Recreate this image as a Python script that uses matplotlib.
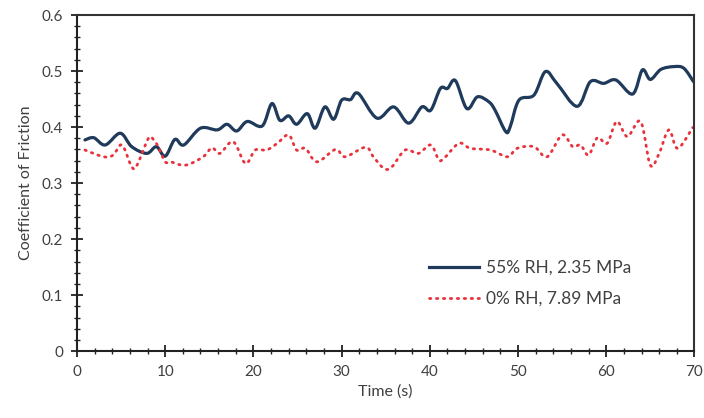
import matplotlib
matplotlib.use("Agg")
import matplotlib.pyplot as plt
import numpy as np
from matplotlib.ticker import MultipleLocator
from matplotlib.path import Path
from matplotlib.patches import PathPatch
from matplotlib.lines import Line2D

t_rh55 = [0.9, 1.9, 3.2, 4.9, 6.2, 7.9, 9.0, 10.0, 11.1, 12.1, 14.0, 15.9, 17.0, 18.1, 19.3, 21.0,
          22.1, 23.0, 24.0, 24.9, 26.1, 27.0, 28.1, 29.1, 30.0, 31.0, 31.9, 34.0, 35.9, 37.6,
          39.1, 40.1, 41.2, 42.0, 42.9, 44.2, 45.4, 46.7, 47.4, 48.6, 49.1, 50.1, 51.8, 53.1,
          54.4, 56.7, 58.2, 59.7, 61.1, 63.0, 64.1, 65.0, 66.2, 67.7, 68.8, 69.9]
cof_rh55 = [0.377, 0.381, 0.368, 0.389, 0.365, 0.353, 0.365, 0.348, 0.378, 0.368, 0.398, 0.395,
            0.405, 0.393, 0.410, 0.402, 0.442, 0.412, 0.420, 0.405, 0.424, 0.398, 0.436, 0.414,
            0.448, 0.449, 0.460, 0.416, 0.436, 0.407, 0.436, 0.430, 0.469, 0.469, 0.483, 0.433,
            0.454, 0.445, 0.430, 0.392, 0.400, 0.448, 0.457, 0.499, 0.478, 0.437, 0.481, 0.478,
            0.484, 0.459, 0.502, 0.485, 0.503, 0.508, 0.505, 0.481]

t_rh0 = [0.9, 3.0, 4.1, 5.1, 6.2, 6.8, 8.1, 8.7, 9.2, 10.0, 10.6, 12.3, 14.3, 15.3, 16.2, 17.7,
         19.1, 20.2, 21.5, 22.7, 24.0, 24.9, 25.9, 27.2, 29.3, 30.4, 32.7, 33.6, 34.8, 35.7,
         37.2, 38.7, 40.1, 41.0, 41.6, 43.3, 44.6, 46.9, 48.8, 49.9, 51.8, 53.3, 55.0, 56.2,
         57.1, 58.0, 59.0, 60.1, 61.2, 62.4, 63.9, 65.0, 66.0, 67.1, 68.1, 69.8]
cof_rh0 = [0.359, 0.347, 0.350, 0.368, 0.329, 0.332, 0.380, 0.377, 0.365, 0.338, 0.338, 0.332,
           0.347, 0.363, 0.353, 0.374, 0.335, 0.359, 0.359, 0.371, 0.386, 0.359, 0.362, 0.338,
           0.360, 0.347, 0.364, 0.347, 0.326, 0.329, 0.359, 0.353, 0.368, 0.342, 0.344, 0.371,
           0.362, 0.359, 0.347, 0.362, 0.365, 0.347, 0.386, 0.365, 0.368, 0.350, 0.381, 0.371,
           0.410, 0.383, 0.410, 0.332, 0.353, 0.395, 0.362, 0.399]

labels = ["55% RH, 2.35 MPa", "0% RH, 7.89 MPa"]


def smooth_path(x, y):
    """Excel-like smoothed line: Catmull-Rom segments drawn as cubic Bezier curves."""
    p = np.column_stack([x, y]).astype(float)
    ext = np.vstack([p[0], p, p[-1]])
    verts = [p[0]]
    codes = [Path.MOVETO]
    for i in range(1, len(ext) - 2):
        p0, p1, p2, p3 = ext[i - 1], ext[i], ext[i + 1], ext[i + 2]
        c1 = p1 + (p2 - p0) / 6.0
        c2 = p2 - (p3 - p1) / 6.0
        verts += [c1, c2, p2]
        codes += [Path.CURVE4] * 3
    return Path(verts, codes)


plt.rcParams['font.family'] = ['Lato', 'DejaVu Sans']
fig = plt.figure(figsize=(7.04, 4.18), dpi=100)
ax = fig.add_axes([0.1094, 0.160, 0.877, 0.804])

blue = '#1f3a5a'
red = '#e8323c'
dots = (0, (0.5, 2.0))

ax.add_patch(PathPatch(smooth_path(t_rh55, cof_rh55), fill=False, edgecolor=blue, lw=2.3,
                       joinstyle='round', capstyle='round'))
ax.add_patch(PathPatch(smooth_path(t_rh0, cof_rh0), fill=False, edgecolor=red, lw=2.0,
                       linestyle=dots, capstyle='round'))

ax.set_xlim(0, 70)
ax.set_ylim(0, 0.6)
ax.xaxis.set_major_locator(MultipleLocator(10))
ax.xaxis.set_minor_locator(MultipleLocator(2))
ax.yaxis.set_major_locator(MultipleLocator(0.1))
ax.yaxis.set_minor_locator(MultipleLocator(0.02))
ax.yaxis.set_major_formatter(plt.FuncFormatter(lambda v, p: '0' if abs(v) < 1e-9 else f'{v:.1f}'))

ax.tick_params(which='major', direction='inout', length=8, width=1.3, color='#222222',
               labelsize=11, labelcolor='#404040', pad=6)
ax.tick_params(which='minor', direction='inout', length=5, width=1.0, color='#222222')
for s in ['left', 'bottom']:
    ax.spines[s].set_linewidth(1.5)
    ax.spines[s].set_color('#222222')
for s in ['top', 'right']:
    ax.spines[s].set_linewidth(1.5)
    ax.spines[s].set_color('#333333')

ax.set_xlabel('Time (s)', fontsize=11.5, color='#404040', labelpad=4)
ax.set_ylabel('Coefficient of Friction', fontsize=11.5, color='#404040', labelpad=6)

handles = [Line2D([], [], color=blue, lw=2.3),
           Line2D([], [], color=red, lw=2.0, ls=dots, dash_capstyle='round')]
ax.legend(handles, labels, loc='upper left', bbox_to_anchor=(0.545, 0.318), frameon=False,
          fontsize=12.5, handlelength=2.9, handletextpad=0.35, labelspacing=0.85,
          labelcolor='#404040')

fig.savefig('out.png', dpi=100)
